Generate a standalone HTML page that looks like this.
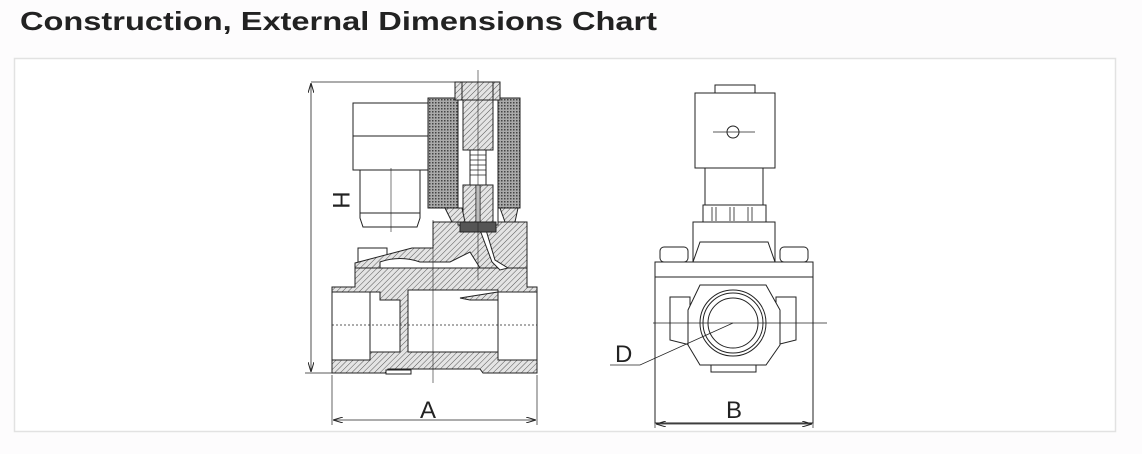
<!DOCTYPE html>
<html><head><meta charset="utf-8"><style>
html,body{margin:0;padding:0;background:#fdfcfd;}
svg{display:block;}
</style></head><body>
<svg width="1142" height="454" viewBox="0 0 1142 454" xmlns="http://www.w3.org/2000/svg">
<defs>
<pattern id="h" width="4" height="4" patternUnits="userSpaceOnUse" patternTransform="rotate(45)">
<rect width="4" height="4" fill="#e4e4e4"/><line x1="0" y1="0" x2="0" y2="4" stroke="#555" stroke-width="1"/>
</pattern>
<pattern id="c" width="3" height="3" patternUnits="userSpaceOnUse">
<rect width="3" height="3" fill="#aaa"/><rect width="1.5" height="1.5" fill="#444"/>
</pattern>
<marker id="a" markerWidth="10" markerHeight="6" refX="10" refY="3" orient="auto-start-reverse" markerUnits="userSpaceOnUse">
<path d="M0,0 L10,3 L0,6" fill="none" stroke="#222" stroke-width="1"/></marker>
</defs>
<text x="20" y="30" font-family="Liberation Sans, sans-serif" font-weight="bold" font-size="26" fill="#222" textLength="637" lengthAdjust="spacingAndGlyphs">Construction, External Dimensions Chart</text>
<rect x="14.5" y="58.5" width="1101" height="373" fill="#fff" stroke="#e2e2e2" stroke-width="1.5"/>

<g stroke="#222" stroke-width="1" fill="none">
<line x1="311" y1="82" x2="462" y2="82" stroke-width="0.7"/>
<line x1="305" y1="373" x2="332" y2="373" stroke-width="0.7"/>
<line x1="311" y1="83" x2="311" y2="372" marker-start="url(#a)" marker-end="url(#a)" stroke-width="0.8"/>
<path d="M332,287 L355,287 L355,268 L527,268 L527,287 L537,287 L537,373 L483,373 L480,369 L388,369 L385,373 L332,373 Z" fill="url(#h)"/>
<rect x="332" y="292" width="38" height="68" fill="#fff"/>
<rect x="498" y="292" width="39" height="68" fill="#fff"/>
<path d="M370,292 L380,292 L380,300 L400,300 L400,352 L370,352 Z" fill="#fff"/>
<rect x="408" y="290" width="90" height="62" fill="#fff"/>
<path d="M460,298 L498,292 L498,300 L470,300 Z" fill="url(#h)"/>
<line x1="332" y1="325" x2="537" y2="325" stroke-dasharray="2,2" stroke-width="0.7"/>
<rect x="386" y="370" width="25" height="4" fill="#fff"/>
<path d="M358,248 L387,248 L387,263 L358,263 Z" fill="#fff"/>
<path d="M355,263 L412,248 L433,248 L433,222 L527,222 L527,268 L355,268 Z" fill="url(#h)"/>
<path d="M380,262 Q400,255 420,262 L450,262 L470,252 L480,268 L380,268 Z" fill="#fff"/>
<path d="M480,230 L492,262 L500,270 L508,268 L495,260 L486,230 Z" fill="#fff"/>
<rect x="428" y="98" width="30" height="110" fill="url(#c)"/>
<rect x="498" y="98" width="22" height="110" fill="url(#c)"/>
<rect x="428" y="98" width="92" height="110"/>
<rect x="458" y="100" width="40" height="125" fill="#fff"/>
<rect x="463" y="100" width="30" height="50" fill="url(#h)"/>
<rect x="470" y="150" width="16" height="35" fill="#fff"/>
<path d="M470,155 h16 M470,160 h16 M470,165 h16 M470,170 h16 M470,175 h16" stroke-width="0.8"/>
<rect x="463" y="185" width="30" height="38" fill="url(#h)"/>
<rect x="476" y="185" width="4" height="40" fill="#fff"/>
<rect x="460" y="222" width="36" height="10" fill="#555"/>
<path d="M445,208 L452,222 L465,222 L462,208 Z M500,208 L505,222 L515,222 L518,208 Z" fill="url(#h)"/>
<rect x="455" y="82" width="45" height="18" fill="url(#h)"/>
<rect x="462" y="82" width="31" height="18" fill="url(#h)"/>
<line x1="478" y1="70" x2="478" y2="280" stroke-width="0.6"/>
<rect x="353" y="103" width="75" height="67" fill="#fff"/>
<line x1="353" y1="136" x2="428" y2="136"/>
<path d="M360,170 L420,170 L420,218 L417,227 L363,227 L360,218 Z" fill="#fff"/>
<line x1="360" y1="213" x2="420" y2="213"/>
<line x1="391" y1="168" x2="391" y2="232" stroke-width="0.6"/>
<line x1="433" y1="220" x2="433" y2="383" stroke-width="0.6"/>
<line x1="332" y1="375" x2="332" y2="425" stroke-width="0.7"/>
<line x1="537" y1="375" x2="537" y2="425" stroke-width="0.7"/>
<line x1="333" y1="420" x2="536" y2="420" marker-start="url(#a)" marker-end="url(#a)" stroke-width="0.8"/>

<rect x="715" y="85" width="40" height="8" fill="#fff"/>
<rect x="695" y="93" width="80" height="75" fill="#fff"/>
<circle cx="733" cy="132" r="6"/>
<line x1="713" y1="132" x2="755" y2="132" stroke-width="0.7"/>
<rect x="705" y="168" width="58" height="37" fill="#fff"/>
<path d="M703,205 L766,205 L766,222 L703,222 Z" fill="#fff"/>
<path d="M712,207 v14 M716,207 v14 M730,207 v14 M734,207 v14 M748,207 v14 M752,207 v14" stroke-width="0.8"/>
<path d="M693,222 L775,222 L775,262 L693,262 Z M700,242 L768,242 L775,262 L693,262 Z" fill="#fff"/>
<rect x="660" y="247" width="28" height="15" rx="4" fill="#fff"/>
<rect x="780" y="247" width="28" height="15" rx="4" fill="#fff"/>
<rect x="655" y="262" width="158" height="161" fill="#fff"/>
<line x1="655" y1="277" x2="813" y2="277"/>
<path d="M670,297 L690,297 L690,345 L670,340 Z M796,297 L776,297 L776,345 L796,340 Z" fill="#fff"/>
<path d="M700,285 L766,285 L780,310 L780,345 L766,365 L700,365 L688,345 L688,310 Z" fill="#fff"/>
<rect x="711" y="365" width="45" height="7" fill="#fff"/>
<circle cx="733" cy="323" r="33"/>
<circle cx="733" cy="323" r="30"/>
<circle cx="733" cy="323" r="25"/>
<line x1="653" y1="323" x2="827" y2="323" stroke-width="0.7"/>
<path d="M733,323 L640,365 L610,365" stroke-width="0.7"/>
<line x1="656" y1="424" x2="812" y2="424" marker-start="url(#a)" marker-end="url(#a)" stroke-width="0.8"/>
<line x1="655" y1="423" x2="655" y2="428" stroke-width="0.7"/>
<line x1="813" y1="423" x2="813" y2="428" stroke-width="0.7"/>
</g>
<g font-family="Liberation Sans, sans-serif" font-size="24" fill="#222">
<text x="420" y="418">A</text>
<text x="726" y="418">B</text>
<text x="615" y="362">D</text>
<text transform="translate(333,200) rotate(90)" text-anchor="middle">H</text>
</g>
</svg>
</body></html>
